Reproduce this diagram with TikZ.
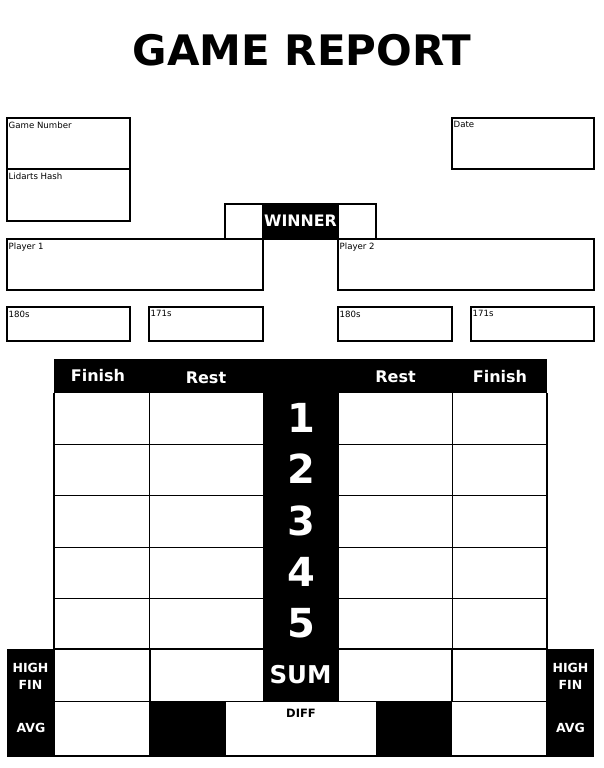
\documentclass[tikz,border=0pt]{standalone}
\usepackage{fontspec}
\setmainfont{DejaVu Sans}
\begin{document}
\begin{tikzpicture}[x=1pt,y=-1pt,
  box/.style={draw,line width=1.2pt},
  grid/.style={line width=1pt},
  frame/.style={line width=2pt},
  tag/.style={anchor=north west,inner sep=0pt,font=\fontsize{8.6}{8.6}\selectfont},
  headtxt/.style={text=white,font=\bfseries\fontsize{16}{16}\selectfont},
  sidetxt/.style={text=white,align=center,font=\bfseries\fontsize{12.5}{17}\selectfont},
  bignum/.style={text=white,font=\bfseries\fontsize{40}{40}\selectfont}]

%\draw[step=50pt,gray,very thin] (0,0) grid (604,768); %background grid
\fill[white] (0,0) rectangle (604,768);
\useasboundingbox (0,0) rectangle (604,768);

\node[font=\bfseries\fontsize{42}{42}\selectfont] (title) at (302,50) {GAME REPORT};

% fields on top
\draw[box] (7,118) rectangle (130,169);
\draw[box] (7,169) rectangle (130,221);
\draw[box] (452,118) rectangle (594,169);
\node[tag] (gamenr) at (8.5,121.5) {Game Number};
\node[tag] (hash) at (8.5,172.5) {Lidarts Hash};
\node[tag] (date) at (453.5,121.5) {Date};

\fill[black] (262,203) rectangle (339,239);
\draw[line width=2pt] (225,204) rectangle (376,239);
\node[text=white,font=\bfseries\fontsize{15.8}{15.8}\selectfont] (winner) at (300.5,221) {WINNER};

\draw[box] (7,239) rectangle (263,290);
\draw[box] (338,239) rectangle (594,290);
\node[tag] (pone) at (8.5,242.5) {Player 1};
\node[tag] (ptwo) at (339.5,242.5) {Player 2};

\draw[box] (7,307) rectangle (130,341);
\draw[box] (149,307) rectangle (263,341);
\draw[box] (338,307) rectangle (452,341);
\draw[box] (471,307) rectangle (594,341);
\node[tag] (oneeighty1) at (8.5,310.5) {180s};
\node[tag] (oneseventy1) at (150.5,310.5) {171s};
\node[tag] (oneeighty2) at (339.5,310.5) {180s};
\node[tag] (oneseventy2) at (472.5,310.5) {171s};

% score table
\fill[black] (54,359) rectangle (547,393);
\fill[black] (263,393) rectangle (339,701);
\fill[black] (7,649) rectangle (54,756);
\fill[black] (547,649) rectangle (594,756);
\fill[black] (149,701) rectangle (226,756);
\fill[black] (376,701) rectangle (452,756);

\node[headtxt] (fin1) at (98,376) {Finish};
\node[headtxt] (rest1) at (206,378) {Rest};
\node[headtxt] (rest2) at (395.5,377) {Rest};
\node[headtxt] (fin2) at (500,377) {Finish};

\foreach \y in {444,495,547,598} {
  \draw[grid] (54,\y) -- (263,\y);
  \draw[grid] (339,\y) -- (547,\y);
}
\draw[grid] (149,393) -- (149,649);
\draw[grid] (452,393) -- (452,649);
\draw[frame] (150,649) -- (150,701);
\draw[frame] (452,649) -- (452,701);
\draw[frame] (54,649) -- (547,649);
\draw[line width=1.5pt] (54,701.5) -- (547,701.5);
\draw[frame] (54,393) -- (54,756);
\draw[frame] (547,393) -- (547,756);
\draw[frame] (7,755.5) -- (594,755.5);

\foreach \n/\y in {1/418,2/469,3/521,4/572,5/623}
  \node[bignum] (num\n) at (301,\y) {\n};

\node[text=white,font=\bfseries\fontsize{24.5}{24.5}\selectfont] (sum) at (300.5,675) {SUM};
\node[anchor=north,inner sep=0pt,font=\bfseries\fontsize{11.5}{11.5}\selectfont] (diff) at (301,709) {DIFF};

\node[sidetxt] (high1) at (30.5,676) {HIGH\\FIN};
\node[sidetxt] (high2) at (570.5,676) {HIGH\\FIN};
\node[sidetxt] (avg1) at (31,728) {AVG};
\node[sidetxt] (avg2) at (570.5,728) {AVG};

\end{tikzpicture}
\end{document}
